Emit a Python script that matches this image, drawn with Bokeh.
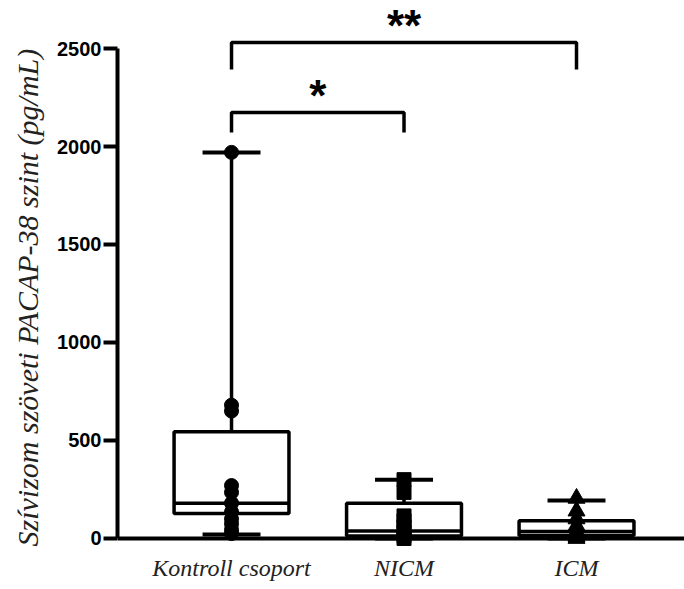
from bokeh.plotting import figure
from bokeh.models import Range1d, FixedTicker, Span, Title
from bokeh.core.properties import value
from bokeh.embed import file_html
from bokeh.resources import INLINE

# ---- data ----
categories = ["Kontroll csoport", "NICM", "ICM"]
q1 = [128, 12, 15]
median = [180, 38, 35]
q3 = [545, 180, 90]
whisker_low = [20, 0, 0]
whisker_high = [1970, 300, 194]

pts_kontroll = [1970, 680, 650, 270, 235, 180, 135, 100, 75, 45, 25]
pts_nicm = [300, 235, 115, 90, 60, 35, 15, 0]
pts_icm = [205, 140, 100, 65, 35, 10, 0]

y_ticks = [0, 500, 1000, 1500, 2000, 2500]
y_title = "Szívizom szöveti PACAP-38 szint (pg/mL)"

# significance brackets: (group a, group b, height, drop, label)
br_a = [0, 0]
br_b = [1, 2]
br_top = [2173, 2531]
br_drop = [2071, 2393]
br_label = ["*", "**"]

# ---- figure ----
p = figure(width=684, height=589, output_backend="svg", toolbar_location=None,
           x_range=Range1d(-0.661, 2.626), y_range=Range1d(-41, 2745),
           min_border_left=117, min_border_right=0, min_border_top=0,
           min_border_bottom=43, background_fill_color="white",
           border_fill_color="white")
p.outline_line_color = None
p.grid.visible = False

pos = list(range(len(categories)))
box_half = 0.333
cap_half = 0.168

# boxes
p.quad(left=[x - box_half for x in pos], right=[x + box_half for x in pos],
       bottom=q1, top=q3, fill_color="white", line_color="black", line_width=3.5)
# medians
p.segment(x0=[x - box_half for x in pos], x1=[x + box_half for x in pos],
          y0=median, y1=median, line_color="black", line_width=3.5)
# whiskers
p.segment(x0=pos, x1=pos, y0=q3, y1=whisker_high, line_color="black", line_width=3.5)
p.segment(x0=pos, x1=pos, y0=q1, y1=whisker_low, line_color="black", line_width=3.5)
# caps
p.segment(x0=[x - cap_half for x in pos], x1=[x + cap_half for x in pos],
          y0=whisker_high, y1=whisker_high, line_color="black", line_width=4)
p.segment(x0=[x - cap_half for x in pos], x1=[x + cap_half for x in pos],
          y0=whisker_low, y1=whisker_low, line_color="black", line_width=4)

# points
p.scatter(x=[0] * len(pts_kontroll), y=pts_kontroll, marker="circle", size=14,
          fill_color="black", line_color="black")
p.scatter(x=[1] * len(pts_nicm), y=pts_nicm, marker="square", size=14,
          fill_color="black", line_color="black")
p.scatter(x=[2] * len(pts_icm), y=pts_icm, marker="triangle", size=17,
          fill_color="black", line_color="black")

# brackets
xs = [[a, a, b, b] for a, b in zip(br_a, br_b)]
ys = [[d, t, t, d] for t, d in zip(br_top, br_drop)]
p.multi_line(xs=xs, ys=ys, line_color="black", line_width=3.5)
p.text(x=[(a + b) / 2 for a, b in zip(br_a, br_b)], y=br_top, text=br_label,
       text_font=value("Liberation Sans"), text_font_style="bold",
       text_font_size="44px", text_align="center", text_baseline="alphabetic",
       text_color="black", y_offset=-17)

# x-axis line at zero
p.add_layout(Span(location=0, dimension="width", line_color="black", line_width=4))

# y axis
p.yaxis.bounds = (0, 2500)
p.yaxis.ticker = FixedTicker(ticks=y_ticks)
p.yaxis.axis_line_width = 4
p.yaxis.major_tick_line_width = 4
p.yaxis.major_tick_out = 14
p.yaxis.major_tick_in = 0
p.yaxis.minor_tick_line_color = None
p.yaxis.major_label_standoff = 2
p.yaxis.major_label_text_font = "Liberation Sans"
p.yaxis.major_label_text_font_style = "bold"
p.yaxis.major_label_text_font_size = "20px"
p.yaxis.major_label_text_color = "black"

p.add_layout(Title(text=y_title, align="left", offset=0, standoff=18,
                   vertical_align="top", text_line_height=0.7,
                   text_font="Liberation Serif", text_font_style="italic",
                   text_font_size="30px", text_color="#222222"), "left")

# x axis: category labels only
p.xaxis.ticker = FixedTicker(ticks=pos)
p.xaxis.major_label_overrides = {i: c for i, c in zip(pos, categories)}
p.xaxis.axis_line_color = None
p.xaxis.major_tick_line_color = None
p.xaxis.minor_tick_line_color = None
p.xaxis.major_tick_out = 0
p.xaxis.major_tick_in = 0
p.xaxis.major_label_standoff = 8
p.xaxis.major_label_text_font = "Liberation Serif"
p.xaxis.major_label_text_font_style = "italic"
p.xaxis.major_label_text_font_size = "24px"
p.xaxis.major_label_text_color = "#222222"

open("out.html", "w").write(file_html(p, INLINE))
